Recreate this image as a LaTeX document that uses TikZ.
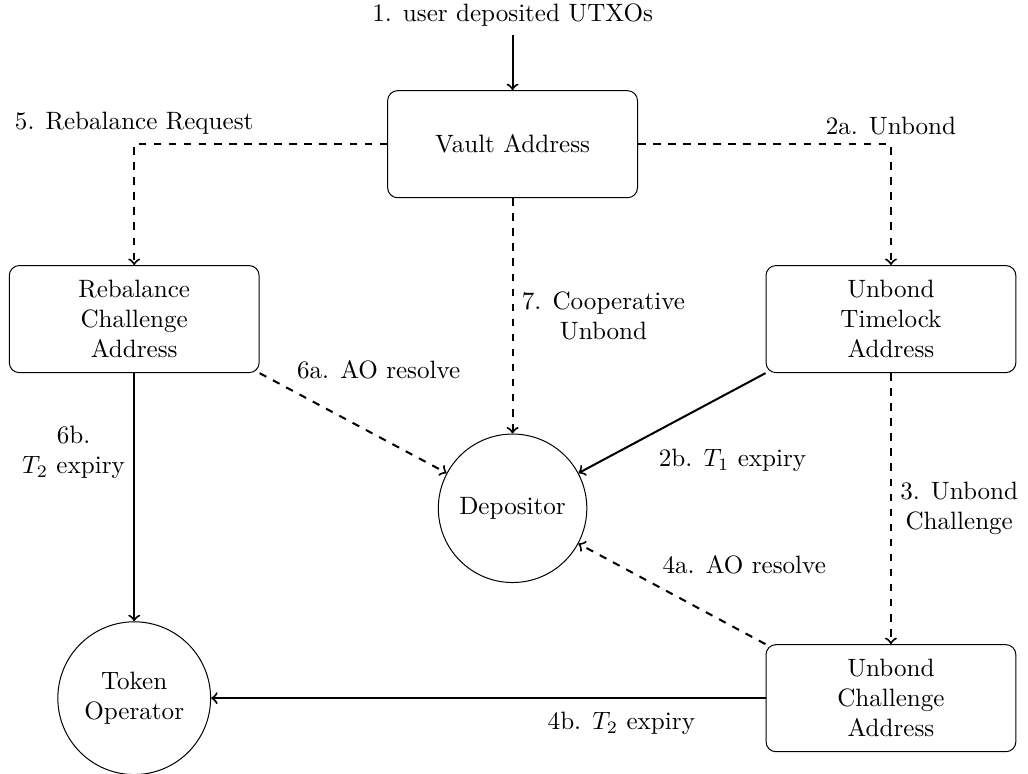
\documentclass[tikz,border=0pt]{standalone}
\usepackage{amsmath}
\usepackage{amssymb}
\usepackage{tikz}

\begin{document}
\begin{tikzpicture}[line join=round,
			addr/.style = {draw, rounded corners, minimum width=3.5cm, minimum height=1.5cm, align=center},
			party/.style = {draw, circle, minimum size=2.08cm, align=center},
			flow/.style = {thick, ->}
			]
			\useasboundingbox (0,0) rectangle (14.4,-10.83);
			\node (utxo) at (7.18,-0.21) {1. user deposited UTXOs};
			\node[addr] (vault) at (7.18,-2.02) {Vault Address};
			\node[addr] (rebal) at (1.88,-4.47) {Rebalance\\Challenge\\Address};
			\node[addr] (lock) at (12.48,-4.47) {Unbond\\Timelock\\Address};
			\node[party] (dep) at (7.18,-7.12) {Depositor};
			\node[party, minimum size=2.14cm] (tok) at (1.88,-9.78) {Token\\Operator};
			\node[addr] (uchal) at (12.48,-9.78) {Unbond\\Challenge\\Address};
			% deposit and unbond path
			\draw[flow] (utxo) -- (vault);
			\draw[flow, dashed] (vault.east) -| node[pos=.5, above] (l2a) {2a. Unbond} (lock.north);
			\draw[flow] (lock.south west) -- node[pos=.62, below right, yshift=-2pt] (l2b) {2b. $T_1$ expiry} (dep);
			\draw[flow, dashed] (lock) -- node[midway, right, align=center] (l3) {3. Unbond\\Challenge} (uchal);
			\draw[flow, dashed] (uchal.north west) -- node[pos=.6, above right] (l4a) {4a. AO resolve} (dep);
			\draw[flow] (uchal) -- node[pos=.26, below, yshift=-2pt] (l4b) {4b. $T_2$ expiry} (tok);
			% rebalance path
			\draw[flow, dashed] (vault.west) -| node[pos=.5, above] (l5) {5. Rebalance Request} (rebal.north);
			\draw[flow, dashed] (rebal.south east) -- node[pos=.15, above right] (l6a) {6a. AO resolve} (dep);
			\draw[flow] (rebal) -- node[pos=.32, left, align=center] (l6b) {6b.\\$T_2$ expiry} (tok);
			\draw[flow, dashed] (vault) -- node[midway, right, align=center] (l7) {7. Cooperative\\Unbond} (dep);
\end{tikzpicture}
\end{document}
